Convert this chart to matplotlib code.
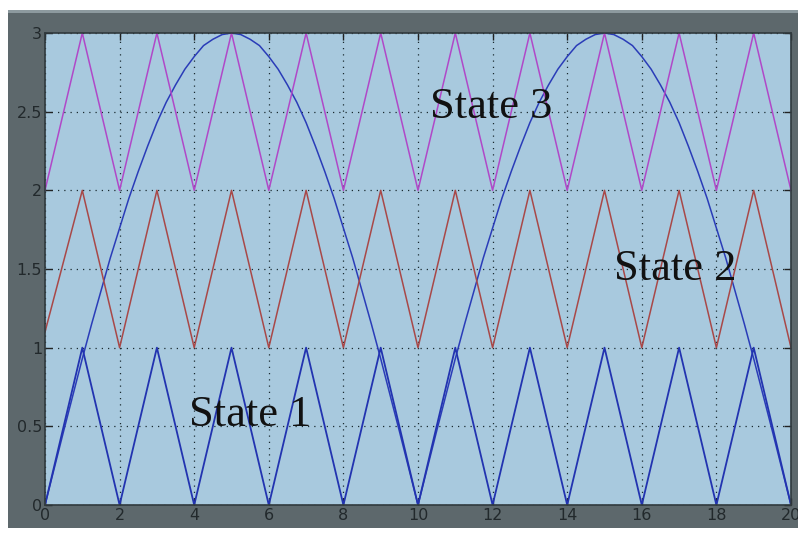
import matplotlib
matplotlib.use("Agg")
import matplotlib.pyplot as plt
from matplotlib.patches import Rectangle

# Triangle waves (vertices at integer x)
tri_x = list(range(0, 21))
state1 = [0, 1, 0, 1, 0, 1, 0, 1, 0, 1, 0, 1, 0, 1, 0, 1, 0, 1, 0, 1, 0]
state2 = [1.1, 2, 1, 2, 1, 2, 1, 2, 1, 2, 1, 2, 1, 2, 1, 2, 1, 2, 1, 2, 1]
state3 = [2, 3, 2, 3, 2, 3, 2, 3, 2, 3, 2, 3, 2, 3, 2, 3, 2, 3, 2, 3, 2]

# Arch curve (read at quarter-unit steps over one arch; the second arch repeats it)
arch_half_x = [0, 0.25, 0.5, 0.75, 1, 1.25, 1.5, 1.75, 2, 2.25, 2.5, 2.75, 3, 3.25, 3.5,
               3.75, 4, 4.25, 4.5, 4.75, 5]
arch_half_y = [0, 0.235, 0.47, 0.70, 0.93, 1.15, 1.36, 1.57, 1.76, 1.95, 2.12, 2.28, 2.43,
               2.56, 2.67, 2.77, 2.85, 2.92, 2.96, 2.99, 3.0]

arch_x = []
arch_y = []
for start in (0, 10):
    for xv, yv in zip(arch_half_x, arch_half_y):
        arch_x.append(start + xv)
        arch_y.append(yv)
    for xv, yv in zip(reversed(arch_half_x[:-1]), reversed(arch_half_y[:-1])):
        arch_x.append(start + 10 - xv)
        arch_y.append(yv)

x_ticks = [0, 2, 4, 6, 8, 10, 12, 14, 16, 18, 20]
y_ticks = [0, 0.5, 1, 1.5, 2, 2.5, 3]
y_ticklabels = ["0", "0.5", "1", "1.5", "2", "2.5", "3"]

labels = ["State 1", "State 2", "State 3"]
label_pos = [(5.5, 0.57), (16.9, 1.5), (11.95, 2.53)]

W, H = 798, 540
fig = plt.figure(figsize=(W / 100, H / 100), dpi=100)
fig.patch.set_facecolor("white")
fig.patches.append(Rectangle((8 / W, (H - 528) / H), (W - 8) / W, (528 - 10) / H,
                             transform=fig.transFigure, facecolor="#5d686c",
                             edgecolor="none", zorder=-10))
fig.patches.append(Rectangle((8 / W, (H - 13) / H), (W - 8) / W, 3 / H,
                             transform=fig.transFigure, facecolor="#8d9a9f",
                             edgecolor="none", zorder=-10))

ax = fig.add_axes([45 / W, (H - 505) / H, (791 - 45) / W, (505 - 33) / H])
ax.set_zorder(5)
ax.set_facecolor("#a8c9de")

ax.plot(arch_x, arch_y, color="#2a3cb8", lw=1.1)
ax.plot(tri_x, state1, color="#2233b0", lw=1.3)
ax.plot(tri_x, state2, color="#a84848", lw=1.1)
ax.plot(tri_x, state3, color="#b048c8", lw=1.1)

ax.set_xlim(0, 20)
ax.set_ylim(0, 3)
ax.set_xticks(x_ticks)
ax.set_yticks(y_ticks)
ax.set_yticklabels(y_ticklabels)
ax.grid(True, color="#1a2a30", linestyle=(0, (1, 4)), linewidth=0.9)
ax.tick_params(direction="in", top=True, right=True, length=5, width=1,
               labelsize=11.5, labelcolor="#22292c", color="#222", pad=2)
for s in ax.spines.values():
    s.set_color("#303a3e")
    s.set_linewidth(1.2)

for lab, (lx, ly) in zip(labels, label_pos):
    ax.text(lx, ly, lab, fontsize=32, family="Liberation Serif", color="#111",
            ha="center", va="center")

fig.savefig("out.png", dpi=100)
